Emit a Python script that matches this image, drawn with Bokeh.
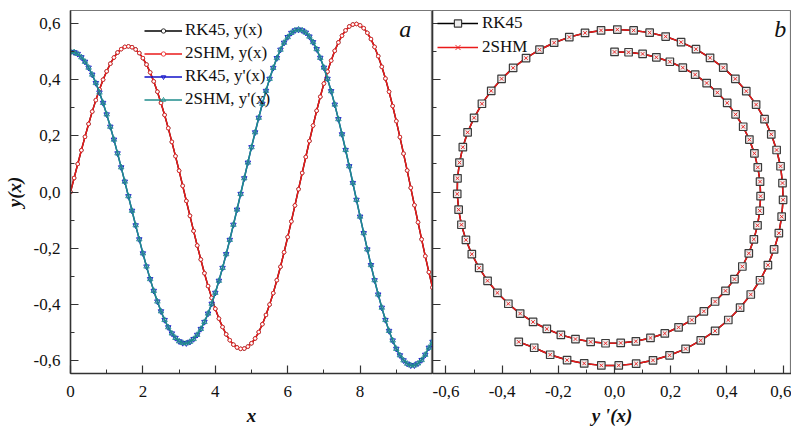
from bokeh.plotting import figure
from bokeh.layouts import row
from bokeh.models import FixedTicker, Range1d, Legend, LegendItem, Label, CustomJSTickFormatter
from bokeh.embed import file_html
from bokeh.resources import INLINE

# ---------------- data ----------------
x_vals = [0.0, 0.1, 0.2, 0.3, 0.4, 0.5, 0.6, 0.7, 0.8, 0.9,
          1.0, 1.1, 1.2, 1.3, 1.4, 1.5, 1.6, 1.7, 1.8, 1.9,
          2.0, 2.1, 2.2, 2.3, 2.4, 2.5, 2.6, 2.7, 2.8, 2.9,
          3.0, 3.1, 3.2, 3.3, 3.4, 3.5, 3.6, 3.7, 3.8, 3.9,
          4.0, 4.1, 4.2, 4.3, 4.4, 4.5, 4.6, 4.7, 4.8, 4.9,
          5.0, 5.1, 5.2, 5.3, 5.4, 5.5, 5.6, 5.7, 5.8, 5.9,
          6.0, 6.1, 6.2, 6.3, 6.4, 6.5, 6.6, 6.7, 6.8, 6.9,
          7.0, 7.1, 7.2, 7.3, 7.4, 7.5, 7.6, 7.7, 7.8, 7.9,
          8.0, 8.1, 8.2, 8.3, 8.4, 8.5, 8.6, 8.7, 8.8, 8.9,
          9.0, 9.1, 9.2, 9.3, 9.4, 9.5, 9.6, 9.7, 9.8, 9.9,
          10.0]

y_vals = [0.000, 0.050, 0.100, 0.149, 0.197, 0.243, 0.287, 0.328, 0.366, 0.401,
          0.431, 0.458, 0.480, 0.498, 0.510, 0.518, 0.520, 0.517, 0.509, 0.496,
          0.478, 0.455, 0.427, 0.395, 0.358, 0.318, 0.275, 0.228, 0.179, 0.128,
          0.076, 0.022, -0.032, -0.085, -0.139, -0.191, -0.241, -0.290, -0.336, -0.378,
          -0.417, -0.452, -0.482, -0.508, -0.529, -0.545, -0.555, -0.560, -0.559, -0.552,
          -0.540, -0.523, -0.500, -0.472, -0.439, -0.402, -0.361, -0.315, -0.267, -0.215,
          -0.161, -0.105, -0.048, 0.010, 0.068, 0.125, 0.182, 0.237, 0.290, 0.340,
          0.387, 0.430, 0.469, 0.504, 0.534, 0.558, 0.577, 0.591, 0.598, 0.600,
          0.595, 0.585, 0.568, 0.546, 0.518, 0.485, 0.447, 0.405, 0.358, 0.307,
          0.253, 0.196, 0.137, 0.077, 0.015, -0.047, -0.108, -0.169, -0.229, -0.286,
          -0.341]

yp_vals = [0.500, 0.499, 0.493, 0.481, 0.465, 0.444, 0.419, 0.389, 0.355, 0.318,
           0.277, 0.233, 0.187, 0.138, 0.088, 0.037, -0.015, -0.067, -0.119, -0.169,
           -0.219, -0.266, -0.311, -0.353, -0.391, -0.426, -0.457, -0.483, -0.505, -0.521,
           -0.533, -0.539, -0.540, -0.535, -0.525, -0.510, -0.489, -0.464, -0.434, -0.399,
           -0.360, -0.317, -0.271, -0.222, -0.171, -0.117, -0.063, -0.007, 0.049, 0.105,
           0.160, 0.213, 0.265, 0.315, 0.361, 0.404, 0.443, 0.478, 0.508, 0.533,
           0.553, 0.568, 0.577, 0.580, 0.577, 0.569, 0.555, 0.535, 0.510, 0.479,
           0.444, 0.404, 0.360, 0.312, 0.260, 0.206, 0.150, 0.092, 0.032, -0.028,
           -0.088, -0.147, -0.205, -0.261, -0.315, -0.366, -0.413, -0.457, -0.496, -0.530,
           -0.560, -0.583, -0.601, -0.613, -0.619, -0.619, -0.612, -0.600, -0.581, -0.556,
           -0.535]

y_major = [-0.6, -0.4, -0.2, 0.0, 0.2, 0.4, 0.6]
y_minor = [-0.5, -0.3, -0.1, 0.1, 0.3, 0.5]
xa_major = [0, 2, 4, 6, 8]
xa_minor = [1, 3, 5, 7, 9]
xb_major = [-0.6, -0.4, -0.2, 0.0, 0.2, 0.4, 0.6]
xb_minor = [-0.5, -0.3, -0.1, 0.1, 0.3, 0.5]

series_a = ["RK45, y(x)", "2SHM, y(x)", "RK45, y'(x)", "2SHM, y'(x)"]
series_b = ["RK45", "2SHM"]

# ---------------- styling ----------------
SERIF = "Liberation Serif"
RED = "#ea1a1a"
TEAL = "#1f8c8c"
BLUE = "#1010c8"
AXC = "#333333"

comma1 = CustomJSTickFormatter(code="return tick.toFixed(1).replace('.', ',');")
int0 = CustomJSTickFormatter(code="return tick.toFixed(0);")
blank = CustomJSTickFormatter(code="return '';")


def style_axes(p):
    for ax in list(p.xaxis) + list(p.yaxis):
        ax.axis_line_color = AXC
        ax.axis_line_width = 1.5
        ax.major_tick_line_color = AXC
        ax.minor_tick_line_color = AXC
        ax.major_tick_line_width = 1.2
        ax.minor_tick_line_width = 1.0
        ax.major_tick_in = 8
        ax.major_tick_out = 0
        ax.minor_tick_in = 4
        ax.minor_tick_out = 0
        ax.major_label_text_font = SERIF
        ax.major_label_text_font_size = "17px"
        ax.major_label_text_color = "#111111"
        ax.axis_label_text_font = SERIF
        ax.axis_label_text_font_size = "19px"
        ax.axis_label_text_font_style = "bold italic"
        ax.axis_label_text_color = "#111111"
    p.grid.visible = False
    p.outline_line_color = "#777777"
    p.outline_line_width = 1.2
    p.background_fill_color = "white"
    p.border_fill_color = "white"


# ---------------- panel a ----------------
pa = figure(width=432, height=429, output_backend="svg", toolbar_location=None,
            x_range=Range1d(0, 10), y_range=Range1d(-0.648, 0.648),
            min_border_left=68, min_border_right=0, min_border_top=10, min_border_bottom=56)
style_axes(pa)
pa.xaxis.ticker = FixedTicker(ticks=xa_major, minor_ticks=xa_minor)
pa.xaxis.formatter = int0
pa.yaxis.ticker = FixedTicker(ticks=y_major, minor_ticks=y_minor)
pa.yaxis.formatter = comma1
pa.xaxis.axis_label = "x"
pa.yaxis.axis_label = "y(x)"
pa.xaxis.major_label_standoff = 12
pa.xaxis.axis_label_standoff = 5
pa.yaxis.major_label_standoff = 10
pa.yaxis.axis_label_standoff = 6

l_rk_y = pa.line(x_vals, y_vals, line_color="black", line_width=1.4)
s_rk_y = pa.scatter(x_vals, y_vals, marker="circle", size=3.6, line_color="black",
                    fill_color="white", line_width=0.8)
l_sh_y = pa.line(x_vals, y_vals, line_color=RED, line_width=1.5)
s_sh_y = pa.scatter(x_vals, y_vals, marker="circle", size=3.6, line_color=RED,
                    fill_color="white", line_width=0.8)
l_rk_yp = pa.line(x_vals, yp_vals, line_color=BLUE, line_width=1.4)
s_rk_yp = pa.scatter(x_vals, yp_vals, marker="inverted_triangle", size=5.5, line_color=BLUE,
                     fill_alpha=0, line_width=0.9)
l_sh_yp = pa.line(x_vals, yp_vals, line_color=TEAL, line_width=1.6)
s_sh_yp = pa.scatter(x_vals, yp_vals, marker="triangle", size=5.5, line_color=TEAL,
                     fill_alpha=0, line_width=0.9)

leg_a = Legend(items=[
    LegendItem(label=series_a[0], renderers=[l_rk_y, s_rk_y]),
    LegendItem(label=series_a[1], renderers=[l_sh_y, s_sh_y]),
    LegendItem(label=series_a[2], renderers=[l_rk_yp, s_rk_yp]),
    LegendItem(label=series_a[3], renderers=[l_sh_yp, s_sh_yp]),
], location=(74, 264), orientation="vertical")
leg_a.label_text_font = SERIF
leg_a.label_text_font_size = "17px"
leg_a.label_text_color = "#111111"
leg_a.glyph_width = 38
leg_a.glyph_height = 11
leg_a.label_height = 20
leg_a.label_standoff = 3
leg_a.spacing = 3
leg_a.padding = 0
leg_a.margin = 0
leg_a.border_line_alpha = 0
leg_a.background_fill_alpha = 0
pa.add_layout(leg_a)

pa.add_layout(Label(x=9.25, y=0.583, text="a", text_font=SERIF, text_font_size="24px",
                    text_font_style="italic", text_align="center", text_baseline="middle",
                    text_color="#111111"))

# ---------------- panel b ----------------
pb = figure(width=359, height=429, output_backend="svg", toolbar_location=None,
            x_range=Range1d(-0.648, 0.63), y_range=Range1d(-0.648, 0.648),
            min_border_left=0, min_border_right=0, min_border_top=10, min_border_bottom=56)
style_axes(pb)
pb.xaxis.ticker = FixedTicker(ticks=xb_major, minor_ticks=xb_minor)
pb.xaxis.formatter = comma1
pb.yaxis.ticker = FixedTicker(ticks=y_major, minor_ticks=y_minor)
pb.yaxis.formatter = blank
pb.yaxis.major_label_standoff = 0
pb.xaxis.axis_label = "y '(x)"
pb.xaxis.major_label_standoff = 12
pb.xaxis.axis_label_standoff = 5

lb_rk = pb.line(y_vals, yp_vals, line_color="black", line_width=1.5)
lb_sh = pb.line(y_vals, yp_vals, line_color=RED, line_width=1.5)
sb_rk = pb.scatter(y_vals, yp_vals, marker="square", size=7.5, line_color="#3a3a3a",
                   fill_color="#ededed", line_width=1.2)
sb_sh = pb.scatter(y_vals, yp_vals, marker="x", size=5, line_color=RED, line_width=0.9)

leg_b = Legend(items=[
    LegendItem(label=series_b[0], renderers=[lb_rk, sb_rk]),
    LegendItem(label=series_b[1], renderers=[lb_sh, sb_sh]),
], location=(5, 316), orientation="vertical")
leg_b.label_text_font = SERIF
leg_b.label_text_font_size = "17px"
leg_b.label_text_color = "#111111"
leg_b.glyph_width = 41
leg_b.glyph_height = 18
leg_b.label_height = 21
leg_b.label_standoff = 4
leg_b.spacing = 3
leg_b.padding = 0
leg_b.margin = 0
leg_b.border_line_alpha = 0
leg_b.background_fill_alpha = 0
pb.add_layout(leg_b)

pb.add_layout(Label(x=0.59, y=0.583, text="b", text_font=SERIF, text_font_size="24px",
                    text_font_style="italic", text_align="center", text_baseline="middle",
                    text_color="#111111"))

layout = row(pa, pb, spacing=0)
open("out.html", "w").write(file_html(layout, INLINE))
